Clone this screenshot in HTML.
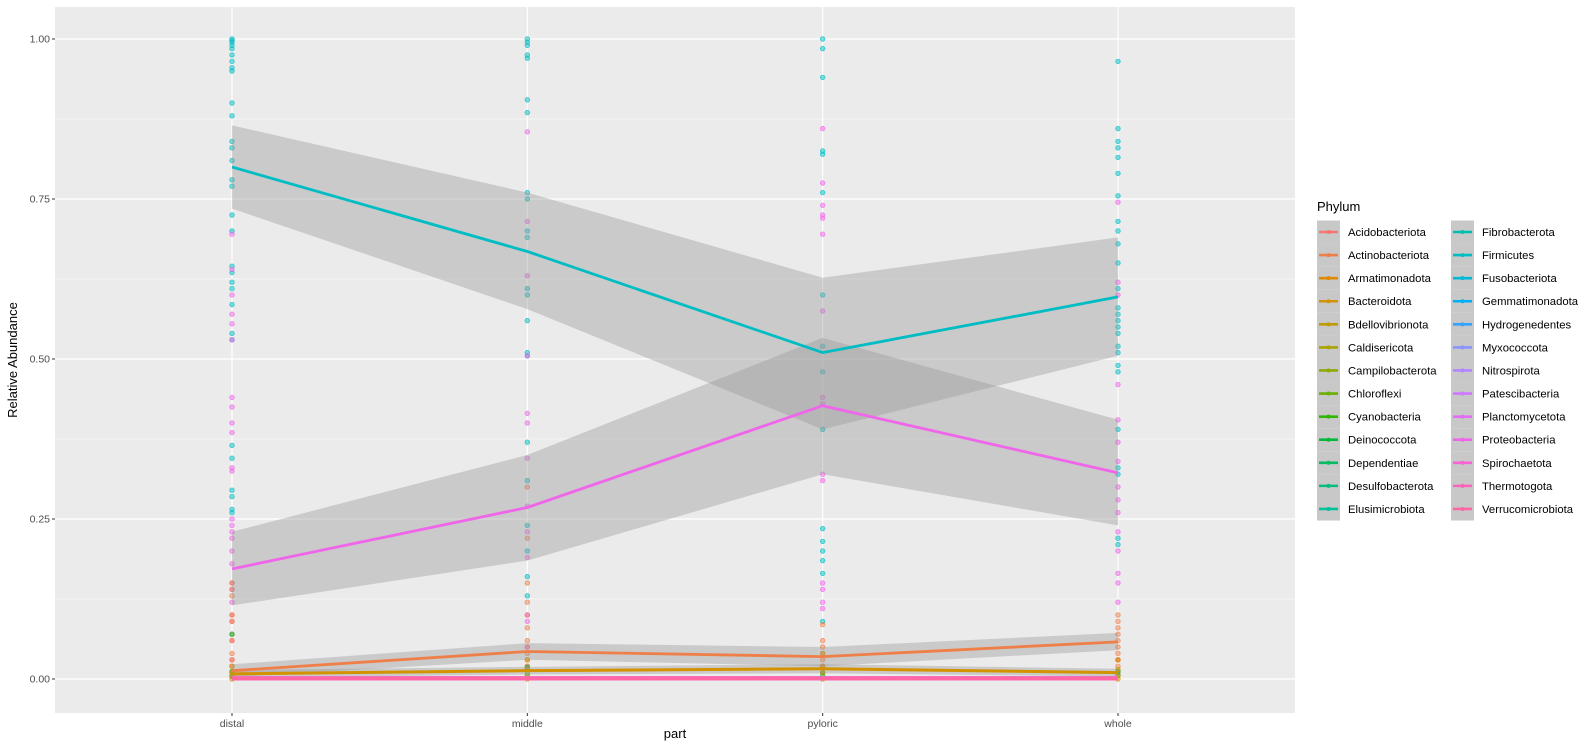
<!DOCTYPE html>
<html><head><meta charset="utf-8"><style>
body{margin:0;background:#fff;font-family:"Liberation Sans",sans-serif}
svg text{font-family:"Liberation Sans",sans-serif}
</style></head><body>
<svg id="chart" width="1589" height="750" xmlns="http://www.w3.org/2000/svg"></svg>
<script>
const parts=["distal","middle","pyloric","whole"];
const yTicks=[0,0.25,0.5,0.75,1];
const yTickLabels=["0.00","0.25","0.50","0.75","1.00"];
const phyla=["Acidobacteriota","Actinobacteriota","Armatimonadota","Bacteroidota","Bdellovibrionota","Caldisericota","Campilobacterota","Chloroflexi","Cyanobacteria","Deinococcota","Dependentiae","Desulfobacterota","Elusimicrobiota","Fibrobacterota","Firmicutes","Fusobacteriota","Gemmatimonadota","Hydrogenedentes","Myxococcota","Nitrospirota","Patescibacteria","Planctomycetota","Proteobacteria","Spirochaetota","Thermotogota","Verrucomicrobiota"];
const colors=["#F8766D","#EF7F49","#E38900","#D39200","#C09B00","#A9A400","#8EAB00","#6BB100","#2FB600","#00BA38","#00BD5F","#00BF7D","#00C097","#00C0AF","#00BDC4","#00B9D8","#00B0F6","#35A2FF","#8B93FF","#B385FF","#D078FF","#E36EF6","#F066EA","#FA62D5","#FF62BC","#FF67A4"];
const firmMean=[0.80,0.668,0.51,0.597];
const firmLo=[0.735,0.578,0.39,0.505];
const firmHi=[0.865,0.76,0.627,0.69];
const proteoMean=[0.172,0.268,0.427,0.322];
const proteoLo=[0.115,0.185,0.32,0.24];
const proteoHi=[0.23,0.35,0.533,0.405];
const actinoMean=[0.013,0.043,0.035,0.058];
const actinoLo=[0.003,0.03,0.02,0.045];
const actinoHi=[0.023,0.056,0.05,0.072];
const bacterMean=[0.008,0.013,0.016,0.010];
const bacterLo=[0.002,0.007,0.009,0.004];
const bacterHi=[0.014,0.019,0.023,0.016];
const otherMean=[0.001,0.001,0.001,0.001];
const firmPts=[
[1.0,0.998,0.995,0.99,0.985,0.975,0.965,0.955,0.95,0.9,0.88,0.84,0.83,0.81,0.78,0.77,0.725,0.70,0.645,0.635,0.62,0.61,0.585,0.54,0.53,0.365,0.345,0.295,0.285,0.265,0.26],
[1.0,0.995,0.99,0.975,0.97,0.905,0.885,0.76,0.75,0.70,0.69,0.61,0.60,0.56,0.51,0.505,0.37,0.31,0.24,0.2,0.16,0.13],
[1.0,0.985,0.94,0.825,0.82,0.76,0.6,0.52,0.48,0.39,0.235,0.215,0.2,0.185,0.165,0.09],
[0.965,0.86,0.84,0.83,0.815,0.79,0.755,0.715,0.7,0.68,0.65,0.61,0.58,0.57,0.56,0.55,0.54,0.52,0.51,0.49,0.48,0.39,0.33,0.32,0.22,0.21]];
const proteoPts=[
[0.695,0.64,0.6,0.57,0.555,0.53,0.44,0.425,0.40,0.385,0.33,0.325,0.25,0.24,0.23,0.22,0.2,0.18,0.14,0.12],
[0.855,0.715,0.63,0.505,0.415,0.4,0.345,0.27,0.23,0.19,0.1,0.09,0.05],
[0.86,0.775,0.74,0.725,0.72,0.695,0.575,0.44,0.43,0.32,0.31,0.15,0.14,0.12,0.11],
[0.745,0.62,0.6,0.46,0.405,0.37,0.34,0.3,0.28,0.26,0.23,0.2,0.165,0.15,0.12]];
const actinoPts=[
[0.15,0.14,0.13,0.1,0.09,0.07,0.06,0.04,0.03,0.02,0.01,0.005],
[0.3,0.22,0.15,0.12,0.08,0.06,0.04,0.03,0.02],
[0.085,0.06,0.05,0.04,0.03,0.02],
[0.1,0.09,0.08,0.07,0.06,0.05,0.04,0.03,0.02]];
const bacterPts=[[0.02,0.01,0.005,0],[0.03,0.015,0.005,0],[0.04,0.02,0.01,0],[0.03,0.015,0.005,0]];
const acidoPts=[[0.15,0.1,0.09,0.06,0.03],[0.1,0.05,0.02],[0.02,0.01],[0.03,0.01]];
const minorPts=[[0.07,0.012,0.004],[0.018,0.008],[0.01,0.005],[0.012,0.006]];

const NS="http://www.w3.org/2000/svg";
const svg=document.getElementById('chart');
const L=55,R=1295,T=7,B=713;
const x=i=>232+i*295.33;
const y=v=>679-640*v;
function el(tag,attrs,parent){const e=document.createElementNS(NS,tag);for(const k in attrs)e.setAttribute(k,attrs[k]);(parent||svg).appendChild(e);return e;}

const panel=el('rect',{x:L,y:T,width:R-L,height:B-T,fill:'#EBEBEB'});


for(let i=0;i<yTicks.length-1;i++){const v=(yTicks[i]+yTicks[i+1])/2;
const g=el('line',{x1:L,x2:R,y1:y(v),y2:y(v),stroke:'#fff','stroke-width':0.6});

}
yTicks.forEach((v,i)=>{
const g=el('line',{x1:L,x2:R,y1:y(v),y2:y(v),stroke:'#fff','stroke-width':1.2});


const tk=el('line',{x1:L-3,x2:L,y1:y(v),y2:y(v),stroke:'#333','stroke-width':1});


const t=el('text',{x:L-5,y:y(v)+3.5,'text-anchor':'end','font-size':'10.5',fill:'#4D4D4D'});
t.textContent=yTickLabels[i];


});
parts.forEach((p,i)=>{
const g=el('line',{x1:x(i),x2:x(i),y1:T,y2:B,stroke:'#fff','stroke-width':1.2});


const tk=el('line',{x1:x(i),x2:x(i),y1:B,y2:B+3,stroke:'#333','stroke-width':1});


const t=el('text',{x:x(i),y:B+14,'text-anchor':'middle','font-size':'10.5',fill:'#4D4D4D'});
t.textContent=p;


});
function pts(arr,col,name){arr.forEach((vals,i)=>vals.forEach(v=>{
const c=el('circle',{cx:x(i),cy:y(v),r:2.3,fill:col,'fill-opacity':0.5,stroke:col,'stroke-opacity':0.7,'stroke-width':0.8});


}));}
pts(firmPts,colors[14],'firmicutes-point');
pts(proteoPts,colors[22],'proteobacteria-point');
pts(actinoPts,colors[1],'actinobacteriota-point');
pts(acidoPts,colors[0],'acidobacteriota-point');
pts(minorPts,colors[9],'deinococcota-point');
pts(bacterPts,colors[3],'bacteroidota-point');
function ribbon(lo,hi,name){let d='';for(let i=0;i<4;i++)d+=(i?'L':'M')+x(i)+','+y(hi[i]);for(let i=3;i>=0;i--)d+='L'+x(i)+','+y(lo[i]);
const r=el('path',{d:d+'Z',fill:'#999','fill-opacity':0.4});

}
function line(m,col,name,w){const p=el('polyline',{points:m.map((v,i)=>x(i)+','+y(v)).join(' '),fill:'none',stroke:col,'stroke-width':w||2.6});

}
ribbon(firmLo,firmHi,'firmicutes-ribbon');
ribbon(proteoLo,proteoHi,'proteobacteria-ribbon');
ribbon(actinoLo,actinoHi,'actinobacteriota-ribbon');
ribbon(bacterLo,bacterHi,'bacteroidota-ribbon');
[17,18,19,20,21,23,24,25].forEach(k=>line(otherMean,colors[k],'trend-line-'+phyla[k].toLowerCase(),4));
line(bacterMean,colors[3],'trend-line-bacteroidota',3);
line(actinoMean,colors[1],'trend-line-actinobacteriota',2.8);
line(proteoMean,colors[22],'trend-line-proteobacteria',2.8);
line(firmMean,colors[14],'trend-line-firmicutes',2.8);

const yt=el('text',{x:0,y:0,transform:'translate(17,360) rotate(-90)','text-anchor':'middle','font-size':'13',fill:'#000'});
yt.textContent='Relative Abundance';


const xt=el('text',{x:675,y:738,'text-anchor':'middle','font-size':'13',fill:'#000'});
xt.textContent='part';



const lt=el('text',{x:1317,y:211,'font-size':'13',fill:'#000'});
lt.textContent='Phylum';


phyla.forEach((n,i)=>{
const col=Math.floor(i/13),row=i%13;
const kx=col?1451:1317, cy=232+row*23.08;
const g=el('g',{});


el('rect',{x:kx,y:cy-11.5,width:23,height:23.08,fill:'#C8C8C8'},g);
el('line',{x1:kx+2,x2:kx+21,y1:cy,y2:cy,stroke:colors[i],'stroke-width':2.6},g);
el('circle',{cx:kx+11.5,cy:cy,r:2,fill:colors[i]},g);
const t=el('text',{x:kx+31,y:cy+4,'font-size':'11.3',fill:'#000'},g);
t.textContent=n;
});
</script>
</body></html>
